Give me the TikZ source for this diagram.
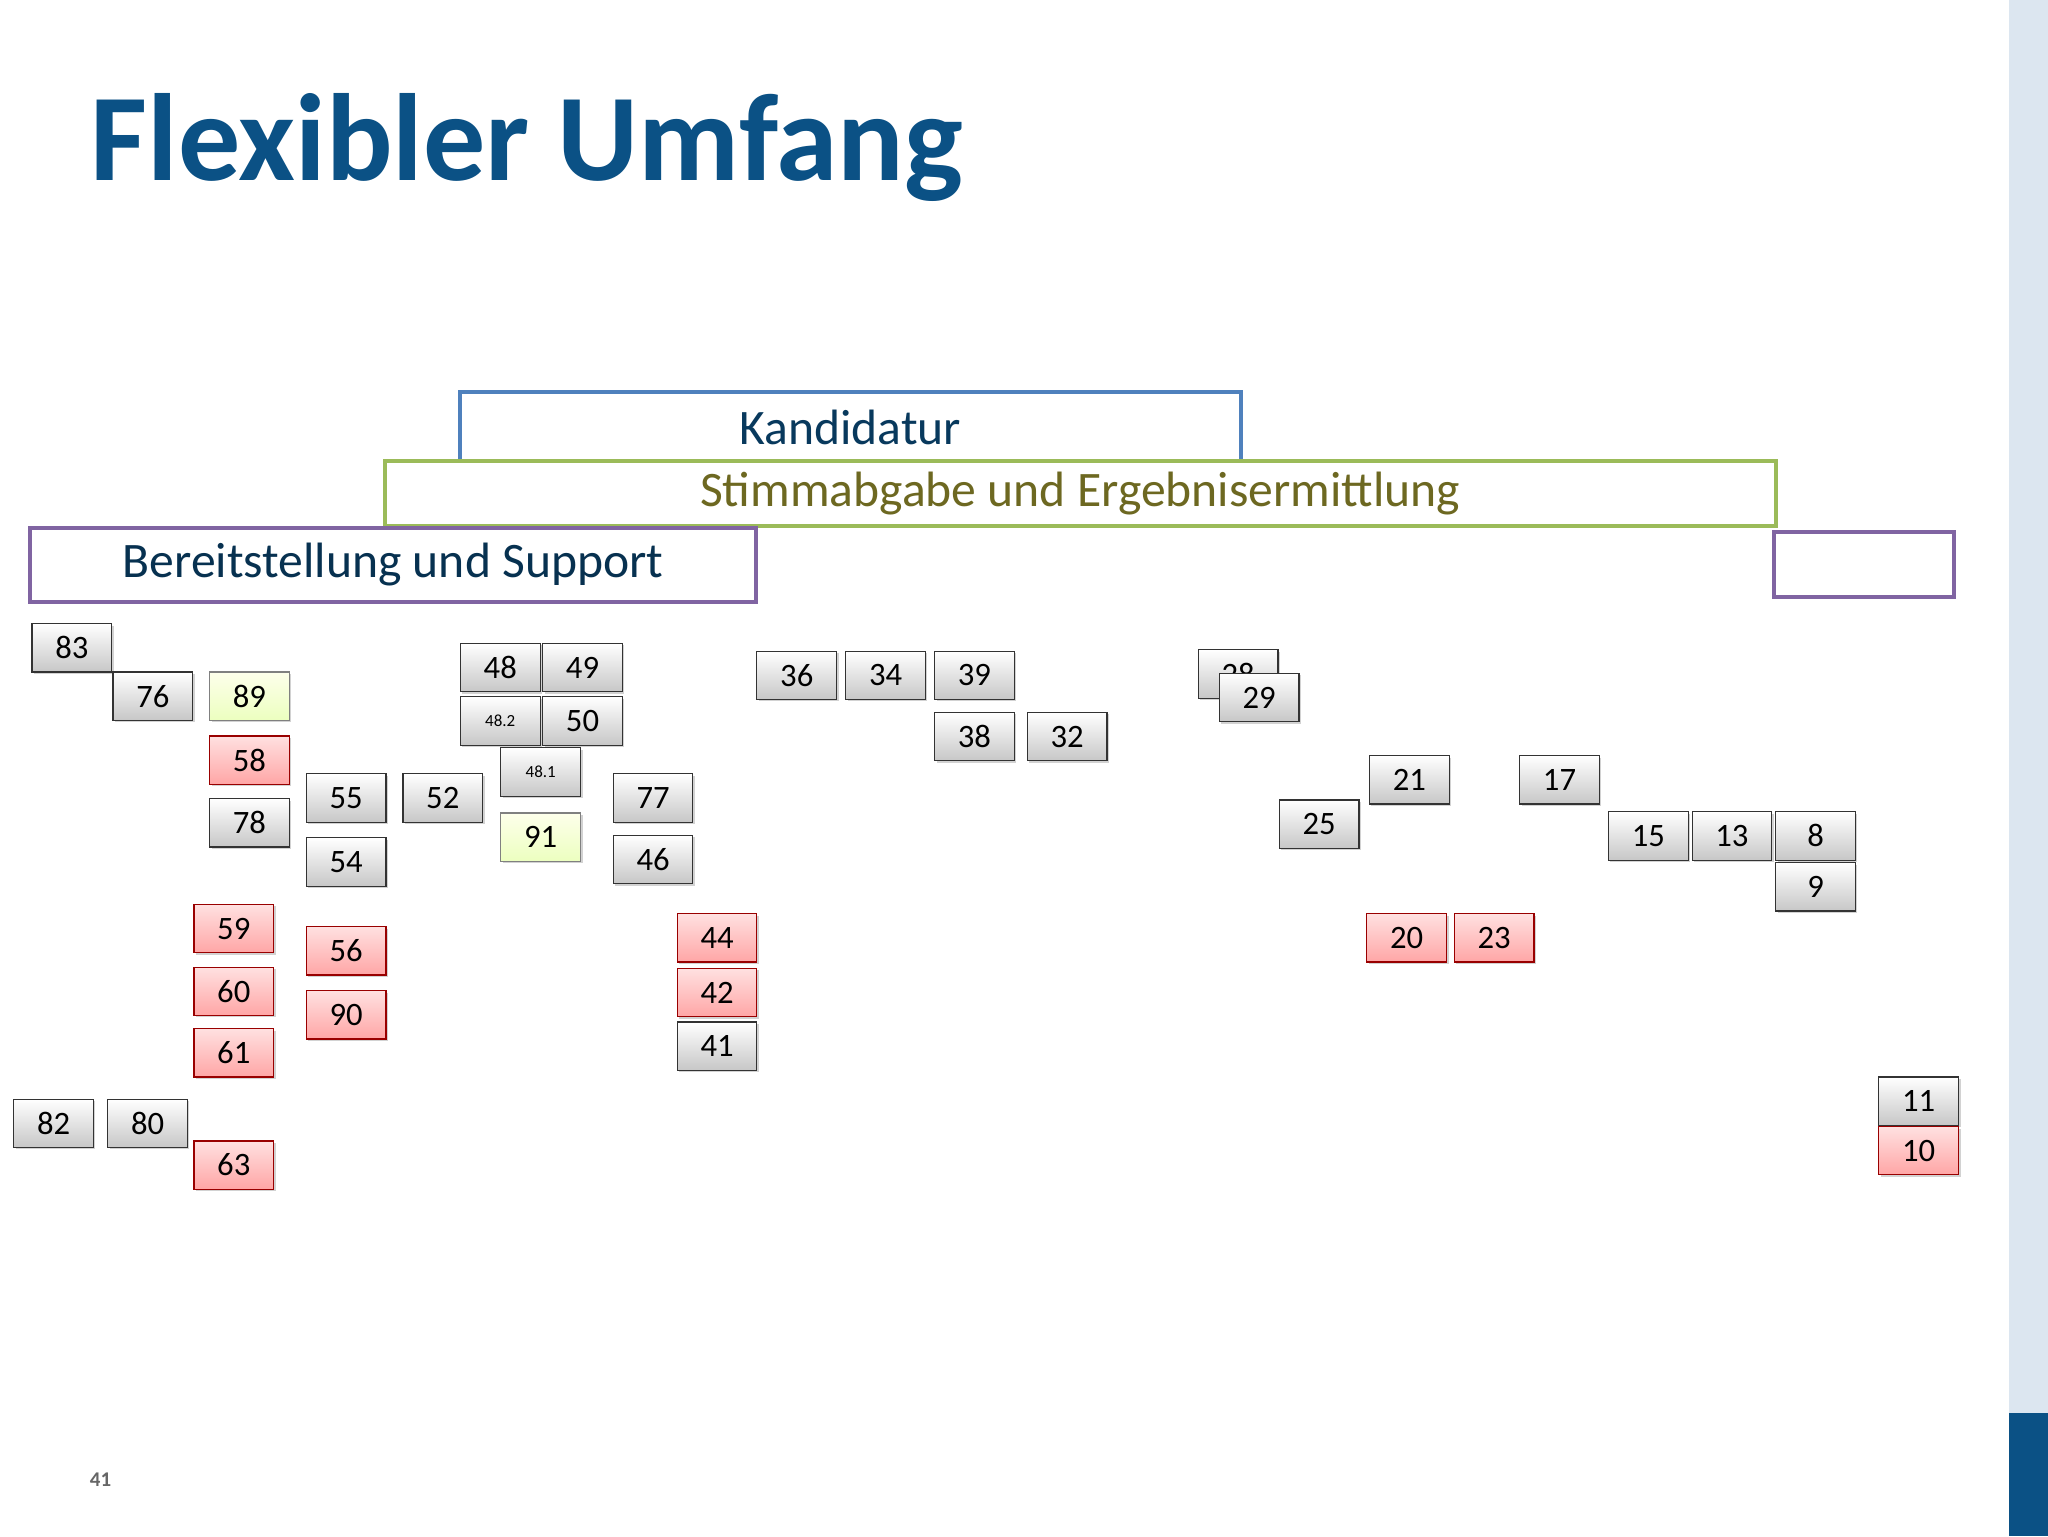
\documentclass[tikz,border=0pt]{standalone}
\usepackage{fontspec}
\setmainfont{Carlito}
\usetikzlibrary{shadows}
\definecolor{ttl}{HTML}{0B5185}
\definecolor{bbl}{HTML}{4F81BD}
\definecolor{bgr}{HTML}{9BBB59}
\definecolor{bpu}{HTML}{8064A2}
\definecolor{strip}{HTML}{DCE6F0}
\begin{document}
\begin{tikzpicture}[x=1pt,y=-1pt,
 bx/.style={draw=black!80,line width=0.9pt,minimum width=61pt,minimum height=37pt,inner sep=0pt,font=\fontsize{25}{25}\selectfont,top color=white,bottom color=black!22,drop shadow={shadow xshift=1.5pt,shadow yshift=-1.5pt,opacity=0.35}},
 rd/.style={bx,draw=red!60!black,top color=red!12,bottom color=red!35},
 gr/.style={bx,draw=black!50,top color=green!8!yellow!8,bottom color=green!30!yellow!25},
 sm/.style={font=\fontsize{13}{13}\selectfont},
 bar/.style={font=\fontsize{38}{38}\selectfont}]
\useasboundingbox (0,0) rectangle (1568,1176);
\fill[white] (0,0) rectangle (1568,1176);
\fill[strip] (1538,0) rectangle (1568,1176);
\fill[ttl] (1538,1082) rectangle (1568,1176);
\node[anchor=base west,text=ttl,font=\fontsize{95}{95}\selectfont\bfseries] (title) at (66,138) {Flexibler Umfang};
\node[text=black!60,font=\fontsize{16}{16}\selectfont\bfseries] (pg) at (77,1133) {41};
% bars
\draw[line width=3pt,draw=bbl] (352,352) -- (352,300) -- (950,300) -- (950,352);
\node[bar,text=ttl!70!black] (kand) at (651,327) {Kandidatur};
\draw[line width=3pt,draw=bgr,fill=white] (295,353) rectangle (1360,403);
\node[bar,text=olive!70!black] (stimm) at (827,378) {Stimmabgabe und Ergebnisermittlung};
\draw[line width=3pt,draw=bpu,fill=white] (23,404) rectangle (579,461);
\node[bar,text=ttl!60!black] (bereit) at (301,432) {Bereitstellung und Support};
\draw[line width=3pt,draw=bpu] (1358,407) rectangle (1496,457);
% boxes
\node[bx] (n83) at (55,496) {83};
\node[bx] (n76) at (117,533) {76};
\node[gr] (n89) at (191,533) {89};
\node[rd] (n58) at (191,582) {58};
\node[bx] (n78) at (191,630) {78};
\node[bx] (n55) at (265,611) {55};
\node[bx] (n54) at (265,660) {54};
\node[bx] (n52) at (339,611) {52};
\node[bx] (n48) at (383,511) {48};
\node[bx] (n49) at (446,511) {49};
\node[bx,sm] (n482) at (383,552) {48.2};
\node[bx] (n50) at (446,552) {50};
\node[bx,sm] (n481) at (414,591) {48.1};
\node[gr] (n91) at (414,641) {91};
\node[bx] (n77) at (500,611) {77};
\node[bx] (n46) at (500,658) {46};
\node[bx] (n36) at (610,517) {36};
\node[bx] (n34) at (678,517) {34};
\node[bx] (n39) at (746,517) {39};
\node[bx] (n38) at (746,564) {38};
\node[bx] (n32) at (817,564) {32};
\node[bx] (n28) at (948,516) {28};
\node[bx] (n29) at (964,534) {29};
\node[bx] (n21) at (1079,597) {21};
\node[bx] (n17) at (1194,597) {17};
\node[bx] (n25) at (1010,631) {25};
\node[bx] (n15) at (1262,640) {15};
\node[bx] (n13) at (1326,640) {13};
\node[bx] (n8) at (1390,640) {8};
\node[bx] (n9) at (1390,679) {9};
\node[rd] (n59) at (179,711) {59};
\node[rd] (n60) at (179,759) {60};
\node[rd] (n61) at (179,806) {61};
\node[rd] (n56) at (265,728) {56};
\node[rd] (n90) at (265,777) {90};
\node[rd] (n44) at (549,718) {44};
\node[rd] (n42) at (549,760) {42};
\node[bx] (n41) at (549,801) {41};
\node[rd] (n20) at (1077,718) {20};
\node[rd] (n23) at (1144,718) {23};
\node[bx] (n82) at (41,860) {82};
\node[bx] (n80) at (113,860) {80};
\node[rd] (n63) at (179,892) {63};
\node[bx] (n11) at (1469,843) {11};
\node[rd] (n10) at (1469,881) {10};
\end{tikzpicture}
\end{document}
